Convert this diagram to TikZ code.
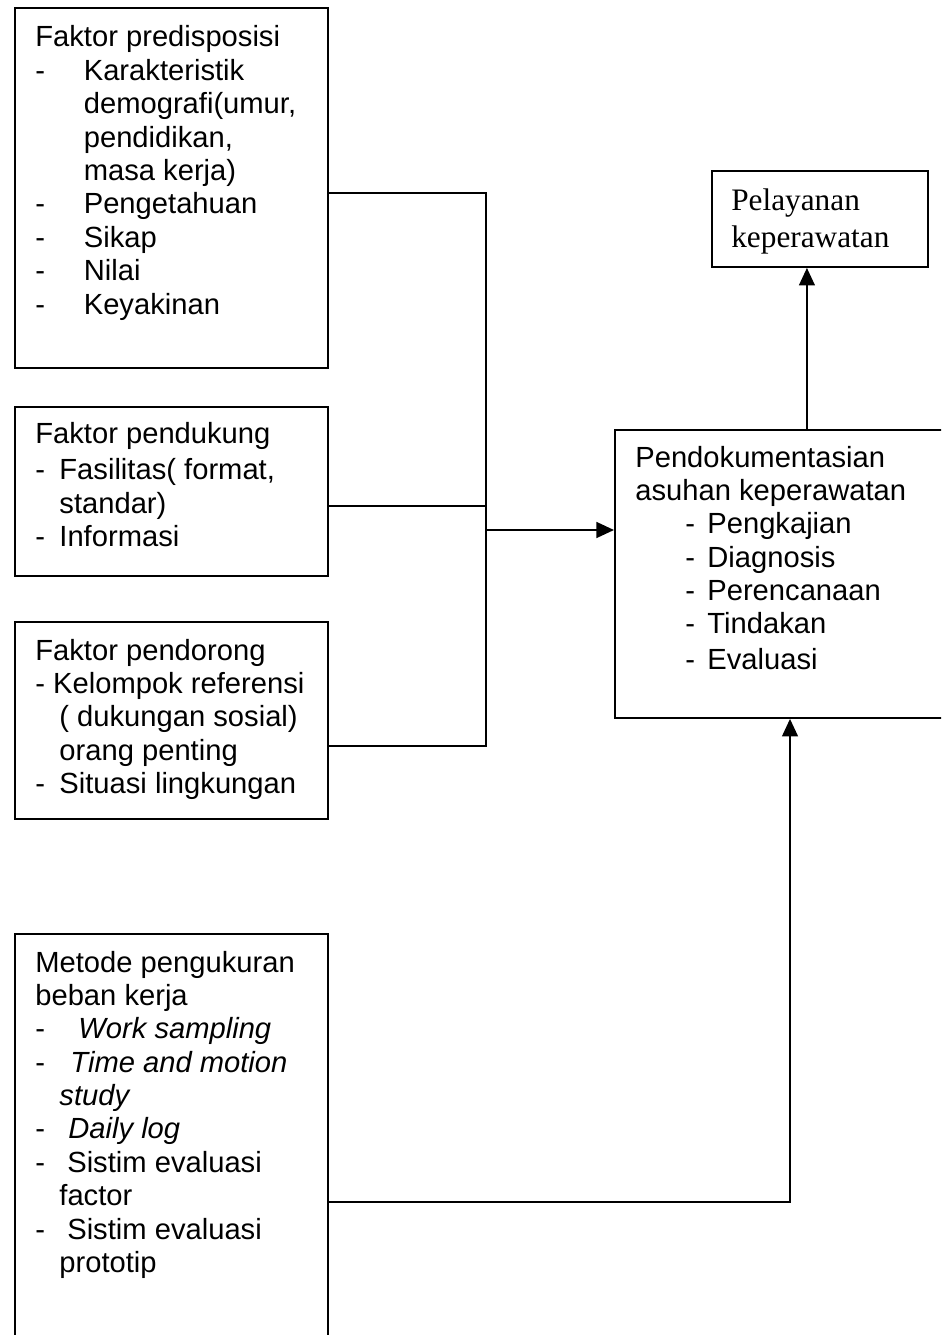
\documentclass[tikz,border=0pt]{standalone}
\usepackage{fontspec}
\setmainfont{Liberation Sans}
\newfontfamily\serifbox{Liberation Serif}
\usetikzlibrary{arrows.meta,positioning,calc}

\tikzset{
  box/.style={draw, line width=1.1pt, rectangle, inner sep=0pt, anchor=north west},
  txt/.style={anchor=base west, inner sep=0pt, font=\fontsize{16.6}{19}\selectfont},
  link/.style={line width=1.1pt},
  arr/.style={line width=1.1pt, -{Triangle[length=10pt,width=9pt]}}
}
\newcommand{\dsh}[1]{\makebox[#1][l]{-}}

\begin{document}
\begin{tikzpicture}[x=0.02cm, y=-0.02cm]
  \useasboundingbox (0,0) rectangle (941,1335);
  \clip (0,0) rectangle (941,1335);

  % Factor boxes on the left
  \node [box, minimum width=6.26cm, minimum height=7.2cm] (predisp) at (14,7) {};
  \node [box, minimum width=6.26cm, minimum height=3.38cm] (pendukung) at (14,406) {};
  \node [box, minimum width=6.26cm, minimum height=3.94cm] (pendorong) at (14,621) {};
  \node [box, minimum width=6.26cm, minimum height=9.4cm] (metode) at (14,933) {};

  % Boxes on the right (cut off at the page edge)
  \node [box, minimum width=7.68cm, minimum height=5.76cm] (dokumen) at (614,429) {};
  \node [box, minimum width=4.32cm, minimum height=1.92cm] (pelayanan) at (711,170) {};

  % Texts
  \node [txt] (predisptext) at (35,47) {\begin{tabular}[t]{@{}l@{}}
    Faktor predisposisi\\
    \dsh{27.6pt}Karakteristik\\
    \hspace*{27.6pt}demografi(umur,\\
    \hspace*{27.6pt}pendidikan,\\
    \hspace*{27.6pt}masa kerja)\\
    \dsh{27.6pt}Pengetahuan\\
    \dsh{27.6pt}Sikap\\
    \dsh{27.6pt}Nilai\\
    \dsh{27.6pt}Keyakinan
  \end{tabular}};
  \node [txt] (pendukungtext) at (35,443) {\begin{tabular}[t]{@{}l@{}}
    Faktor pendukung\\[2pt]
    \dsh{13.7pt}Fasilitas( format,\\
    \hspace*{13.7pt}standar)\\
    \dsh{13.7pt}Informasi
  \end{tabular}};
  \node [txt] (pendorongtext) at (35,660) {\begin{tabular}[t]{@{}l@{}}
    Faktor pendorong\\
    - Kelompok referensi\\
    \hspace*{13.7pt}( dukungan sosial)\\
    \hspace*{13.7pt}orang penting\\
    \dsh{13.7pt}Situasi lingkungan
  \end{tabular}};
  \node [txt] (metodetext) at (35,972) {\begin{tabular}[t]{@{}l@{}}
    Metode pengukuran\\
    beban kerja\\
    \dsh{24.5pt}\textit{Work sampling}\\
    \dsh{20pt}\textit{Time and motion}\\
    \hspace*{13.7pt}\textit{study}\\
    \dsh{18.8pt}\textit{Daily log}\\
    \dsh{18.2pt}Sistim evaluasi\\
    \hspace*{13.7pt}factor\\
    \dsh{18.2pt}Sistim evaluasi\\
    \hspace*{13.7pt}prototip
  \end{tabular}};
  \node [txt] (dokumentext) at (635,467) {\begin{tabular}[t]{@{}l@{}}
    Pendokumentasian\\
    asuhan keperawatan\\
    \hspace*{28.5pt}\dsh{12.5pt}Pengkajian\\
    \hspace*{28.5pt}\dsh{12.5pt}Diagnosis\\
    \hspace*{28.5pt}\dsh{12.5pt}Perencanaan\\
    \hspace*{28.5pt}\dsh{12.5pt}Tindakan\\[1.5pt]
    \hspace*{28.5pt}\dsh{12.5pt}Evaluasi
  \end{tabular}};
  \node [txt, font=\serifbox\fontsize{17.8}{21.6}\selectfont] (pelayanantext) at (731,210) {\begin{tabular}[t]{@{}l@{}}
    Pelayanan\\
    keperawatan
  \end{tabular}};

  % Connectors
  \coordinate (bus1) at (486,193);
  \coordinate (bus2) at (486,506);
  \coordinate (bus3) at (486,746);
  \coordinate (busout) at (486,530);
  \coordinate (metcorner) at (790,1202);
  \draw [link] (predisp.east |- bus1) -- (bus1) -- (bus3) -- (pendorong.east |- bus3);
  \draw [link] (pendukung.east |- bus2) -- (bus2);
  \draw [arr] (busout) -- (dokumen.west |- busout);
  \draw [arr] (dokumen.north) -- (dokumen.north |- pelayanan.south);
  \draw [arr] (metode.east |- metcorner) -- (metcorner) -- (dokumen.south -| metcorner);
\end{tikzpicture}
\end{document}
